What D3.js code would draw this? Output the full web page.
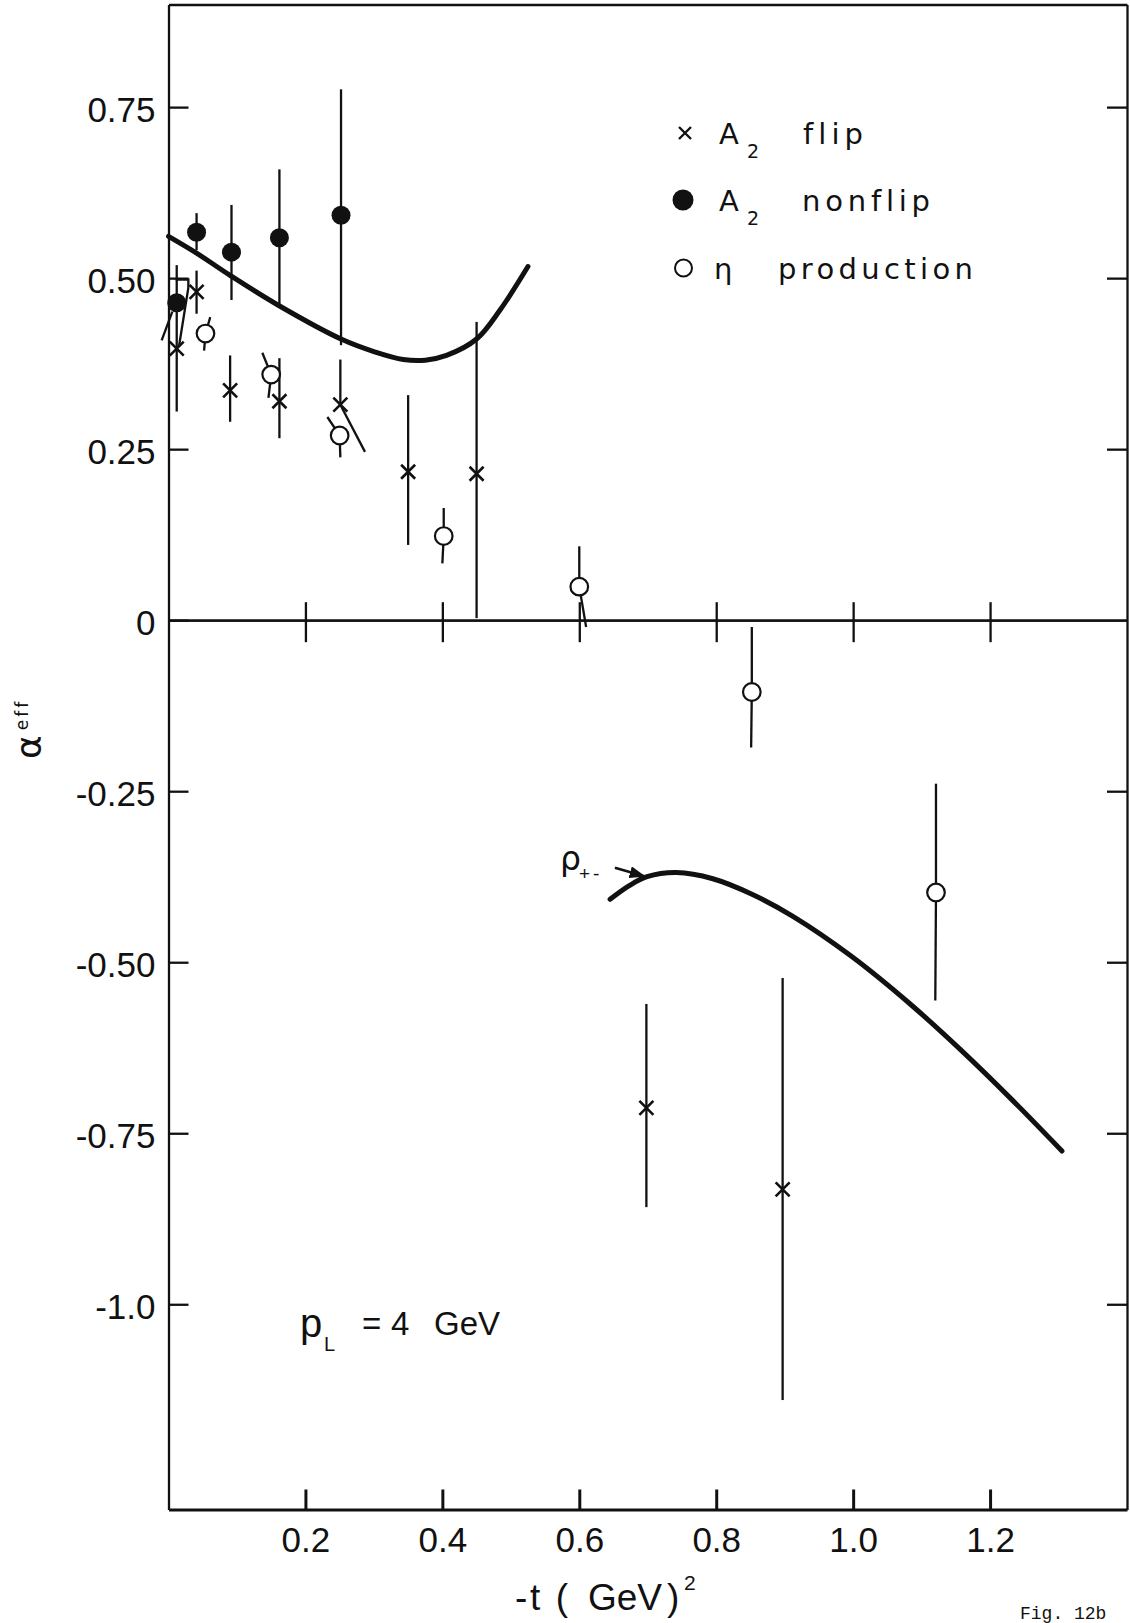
<!DOCTYPE html>
<html lang="en">
<head>
<meta charset="UTF-8">
<title>alpha eff vs -t, pL = 4 GeV</title>
<script src="https://d3js.org/d3.v7.min.js"></script>
<style>
  body { margin: 0; background: #fff; }
  svg { display: block; background: #fff; }
  text { font-variant-ligatures: none; font-feature-settings: "liga" 0, "clig" 0; }
</style>
</head>
<body>
<svg id="chart" width="1130" height="1623"></svg>
<script>
// values: -t in GeV^2, alpha_eff
const xTicks = [0.2, 0.4, 0.6, 0.8, 1.0, 1.2];
const xTickLabels = ["0.2", "0.4", "0.6", "0.8", "1.0", "1.2"];
const yTicks = [0.75, 0.5, 0.25, 0, -0.25, -0.5, -0.75, -1.0];
const yTickLabels = ["0.75", "0.50", "0.25", "0", "-0.25", "-0.50", "-0.75", "-1.0"];

// A2 flip (crosses); lower bar of the 5th point is drawn slanted
const flipT   = [0.012, 0.041, 0.090, 0.162, 0.251, 0.350, 0.450, 0.698, 0.897];
const flipA   = [0.397, 0.480, 0.336, 0.320, 0.315, 0.217, 0.214, -0.713, -0.832];
const flipHi  = [0.519, 0.511, 0.387, 0.383, 0.381, 0.329, 0.436, -0.561, -0.523];
const flipLo  = [0.305, 0.448, 0.290, 0.266, 0.246, 0.110, 0.003, -0.858, -1.140];
const flipLoT = [0.012, 0.041, 0.090, 0.162, 0.287, 0.350, 0.450, 0.698, 0.897];

// A2 nonflip (filled circles)
const nonflipT  = [0.012, 0.041, 0.092, 0.162, 0.252];
const nonflipA  = [0.464, 0.567, 0.538, 0.559, 0.592];
const nonflipHi = [0.464, 0.595, 0.607, 0.659, 0.776];
const nonflipLo = [0.464, 0.541, 0.468, 0.460, 0.402];

// eta production (open circles); some bars are hand-drawn at a slant
const etaT   = [0.054, 0.150, 0.250, 0.402, 0.600, 0.852, 1.121];
const etaA   = [0.419, 0.359, 0.270, 0.123, 0.049, -0.105, -0.398];
const etaHi  = [0.443, 0.391, 0.297, 0.164, 0.108, -0.010, -0.239];
const etaHiT = [0.061, 0.137, 0.232, 0.402, 0.600, 0.852, 1.121];
const etaLo  = [0.394, 0.325, 0.238, 0.083, -0.010, -0.186, -0.556];
const etaLoT = [0.052, 0.146, 0.251, 0.400, 0.610, 0.851, 1.120];

// stray pen strokes next to the first points
const strayT = [[0.0105, 0.029, 0.029, 0.0153], [-0.010, 0.0056]];
const strayA = [[0.498, 0.498, 0.486, 0.400], [0.409, 0.451]];

// model curves
const a2CurveT = [0, 0.041, 0.090, 0.161, 0.252, 0.302, 0.343, 0.375, 0.406, 0.450, 0.484, 0.525];
const a2CurveA = [0.561, 0.5365, 0.504, 0.460, 0.411, 0.392, 0.381, 0.380, 0.387, 0.411, 0.453, 0.517];
const rhoCurveT = [0.645, 0.673, 0.699, 0.742, 0.795, 0.853, 0.912, 0.997, 1.082, 1.156, 1.230, 1.305];
const rhoCurveA = [-0.408, -0.388, -0.375, -0.369, -0.378, -0.401, -0.433, -0.491, -0.560, -0.627, -0.699, -0.776];

// arrow pointing at the rho curve
const rhoArrowT = [0.652, 0.694];
const rhoArrowA = [-0.362, -0.374];

const ink = "#111";
const numFont = "'Liberation Sans', Arial, sans-serif";
const wordFont = "'DejaVu Sans', sans-serif";

const svg = d3.select("#chart");
svg.append("rect").attr("width", 1130).attr("height", 1623).attr("fill", "#fff");

const x = d3.scaleLinear().domain([0, 1.4]).range([168.5, 1127]);
const y = d3.scaleLinear().domain([-1.3, 0.9]).range([1509.5, 4.5]);

function styleAxis(g, w) {
    g.attr("color", ink).attr("font-family", numFont).attr("font-size", 35);
    g.selectAll("path, line").attr("stroke", ink).attr("stroke-width", w);
    g.selectAll("text").attr("fill", ink);
}

// frame
svg.append("g").attr("transform", `translate(${x(0)},0)`)
    .call(d3.axisLeft(y).tickValues(yTicks).tickSize(-20).tickSizeOuter(0).tickPadding(13)
        .tickFormat((d, i) => yTickLabels[i]))
    .call(g => styleAxis(g, 2.3))
    .call(g => g.selectAll("text").attr("dy", "0.40em"));

svg.append("g").attr("transform", `translate(${x(1.4)},0)`)
    .call(d3.axisRight(y).tickValues(yTicks.filter(d => d !== 0)).tickSize(-20).tickSizeOuter(0).tickFormat(""))
    .call(g => styleAxis(g, 2.3));

svg.append("g").attr("transform", `translate(0,${y(0.9)})`)
    .call(d3.axisTop(x).tickValues([]).tickSizeOuter(0))
    .call(g => styleAxis(g, 2.3));

svg.append("g").attr("transform", `translate(0,${y(-1.3)})`)
    .call(d3.axisBottom(x).tickValues(xTicks).tickSize(-20).tickSizeOuter(0).tickPadding(18)
        .tickFormat((d, i) => xTickLabels[i]))
    .call(g => styleAxis(g, 3));

// zero line with crossing ticks
svg.append("g").attr("transform", `translate(0,${y(0)})`)
    .call(d3.axisBottom(x).tickValues(xTicks).tickSize(22).tickSizeOuter(0).tickFormat(""))
    .call(g => styleAxis(g, 2.3));
svg.append("g").attr("transform", `translate(0,${y(0)})`)
    .call(d3.axisTop(x).tickValues(xTicks).tickSize(18).tickSizeOuter(0).tickFormat(""))
    .call(g => styleAxis(g, 2.3));

// curves
const curve = d3.line().x(d => x(d[0])).y(d => y(d[1])).curve(d3.curveCatmullRom.alpha(0.5));
svg.append("path").datum(d3.zip(a2CurveT, a2CurveA)).attr("d", curve)
    .attr("fill", "none").attr("stroke", ink).attr("stroke-width", 5).attr("stroke-linecap", "round");
svg.append("path").datum(d3.zip(rhoCurveT, rhoCurveA)).attr("d", curve)
    .attr("fill", "none").attr("stroke", ink).attr("stroke-width", 5).attr("stroke-linecap", "round");

// error bars
const bars = svg.append("g").attr("stroke", ink).attr("stroke-width", 2.3).attr("fill", "none");
const segs = [];
flipT.forEach((t, i) => {
    segs.push([t, flipA[i], t, flipHi[i]]);
    segs.push([t, flipA[i], flipLoT[i], flipLo[i]]);
});
nonflipT.forEach((t, i) => {
    segs.push([t, nonflipA[i], t, nonflipHi[i]]);
    segs.push([t, nonflipA[i], t, nonflipLo[i]]);
});
etaT.forEach((t, i) => {
    segs.push([t, etaA[i], etaHiT[i], etaHi[i]]);
    segs.push([t, etaA[i], etaLoT[i], etaLo[i]]);
});
bars.selectAll("line").data(segs).join("line")
    .attr("x1", d => x(d[0])).attr("y1", d => y(d[1]))
    .attr("x2", d => x(d[2])).attr("y2", d => y(d[3]));

const stray = d3.line().x(d => x(d[0])).y(d => y(d[1]));
bars.selectAll("path.stray").data(strayT.map((ts, i) => d3.zip(ts, strayA[i]))).join("path")
    .attr("class", "stray").attr("d", stray);

// markers
const cross = "M-7,-7L7,7M-7,7L7,-7";
svg.append("g").selectAll("path").data(d3.zip(flipT, flipA)).join("path")
    .attr("transform", d => `translate(${x(d[0])},${y(d[1])})`)
    .attr("d", cross).attr("stroke", ink).attr("stroke-width", 2.6).attr("fill", "none");

svg.append("g").selectAll("circle").data(d3.zip(nonflipT, nonflipA)).join("circle")
    .attr("cx", d => x(d[0])).attr("cy", d => y(d[1])).attr("r", 9.5).attr("fill", ink);

svg.append("g").selectAll("circle").data(d3.zip(etaT, etaA)).join("circle")
    .attr("cx", d => x(d[0])).attr("cy", d => y(d[1])).attr("r", 8.8)
    .attr("fill", "#fff").attr("stroke", ink).attr("stroke-width", 2.2);

// legend
const leg = svg.append("g").attr("fill", ink).attr("font-family", wordFont);
leg.append("path").attr("transform", "translate(685,133)").attr("d", "M-6,-6L6,6M-6,6L6,-6")
    .attr("stroke", ink).attr("stroke-width", 2.4).attr("fill", "none");
leg.append("circle").attr("cx", 683).attr("cy", 200).attr("r", 10.5).attr("fill", ink);
leg.append("circle").attr("cx", 683.5).attr("cy", 268).attr("r", 8.5)
    .attr("fill", "#fff").attr("stroke", ink).attr("stroke-width", 2);

const legRows = [
    { sym: "A", sub: "2", word: "flip", base: 143.5, wx: 803, wl: 60 },
    { sym: "A", sub: "2", word: "nonflip", base: 211, wx: 802, wl: 128 },
    { sym: "η", sub: "", word: "production", base: 279, wx: 778, wl: 195 }
];
legRows.forEach(r => {
    leg.append("text").attr("x", r.sym === "A" ? 719 : 714).attr("y", r.base)
        .attr("font-size", 29).text(r.sym);
    if (r.sub) leg.append("text").attr("x", 747).attr("y", r.base + 14).attr("font-size", 19).text(r.sub);
    leg.append("text").attr("x", r.wx).attr("y", r.base).attr("font-size", 29)
        .attr("textLength", r.wl).attr("lengthAdjust", "spacing").text(r.word);
});

// y axis title
const yTitle = svg.append("text").attr("transform", "translate(41,759) rotate(-90)")
    .attr("fill", ink).attr("font-family", wordFont);
yTitle.append("tspan").attr("font-size", 36).text("α");
yTitle.append("tspan").attr("font-size", 17).attr("dx", 5).attr("dy", -13)
    .attr("letter-spacing", 3).text("eff");

// x axis title
const xTitle = svg.append("g").attr("fill", ink).attr("font-family", numFont).attr("font-size", 37);
xTitle.append("text").attr("x", 515).attr("y", 1610)
    .attr("textLength", 53).attr("lengthAdjust", "spacing").text("-t (");
xTitle.append("text").attr("x", 588).attr("y", 1610).text("GeV");
xTitle.append("text").attr("x", 667).attr("y", 1610).text(")");
xTitle.append("text").attr("x", 684).attr("y", 1590).attr("font-size", 21).text("2");

// p_L annotation
const ann = svg.append("g").attr("fill", ink).attr("font-family", numFont);
ann.append("text").attr("x", 300).attr("y", 1337).attr("font-size", 40).text("p");
ann.append("text").attr("x", 324).attr("y", 1351).attr("font-size", 20).text("L");
ann.append("text").attr("x", 362).attr("y", 1335).attr("font-size", 33).text("=");
ann.append("text").attr("x", 391).attr("y", 1335).attr("font-size", 33).text("4");
ann.append("text").attr("x", 434).attr("y", 1335).attr("font-size", 33).text("GeV");

// rho label and arrow
ann.append("text").attr("x", 560).attr("y", 870).attr("font-size", 33)
    .attr("font-family", wordFont).text("ρ");
ann.append("text").attr("x", 579).attr("y", 880).attr("font-size", 19)
    .attr("letter-spacing", 3).text("+-");
svg.append("defs").append("marker").attr("id", "head")
    .attr("markerUnits", "userSpaceOnUse").attr("markerWidth", 16).attr("markerHeight", 12)
    .attr("refX", 14).attr("refY", 6).attr("orient", "auto")
    .append("path").attr("d", "M0,0L16,6L0,12Z").attr("fill", ink);
svg.append("line")
    .attr("x1", x(rhoArrowT[0])).attr("y1", y(rhoArrowA[0]))
    .attr("x2", x(rhoArrowT[1])).attr("y2", y(rhoArrowA[1]))
    .attr("stroke", ink).attr("stroke-width", 2.6).attr("marker-end", "url(#head)");

// figure caption in the bottom corner
svg.append("text").attr("x", 1020).attr("y", 1619).attr("fill", ink)
    .attr("font-family", "'Liberation Mono', monospace").attr("font-size", 18).text("Fig. 12b");
</script>
</body>
</html>
